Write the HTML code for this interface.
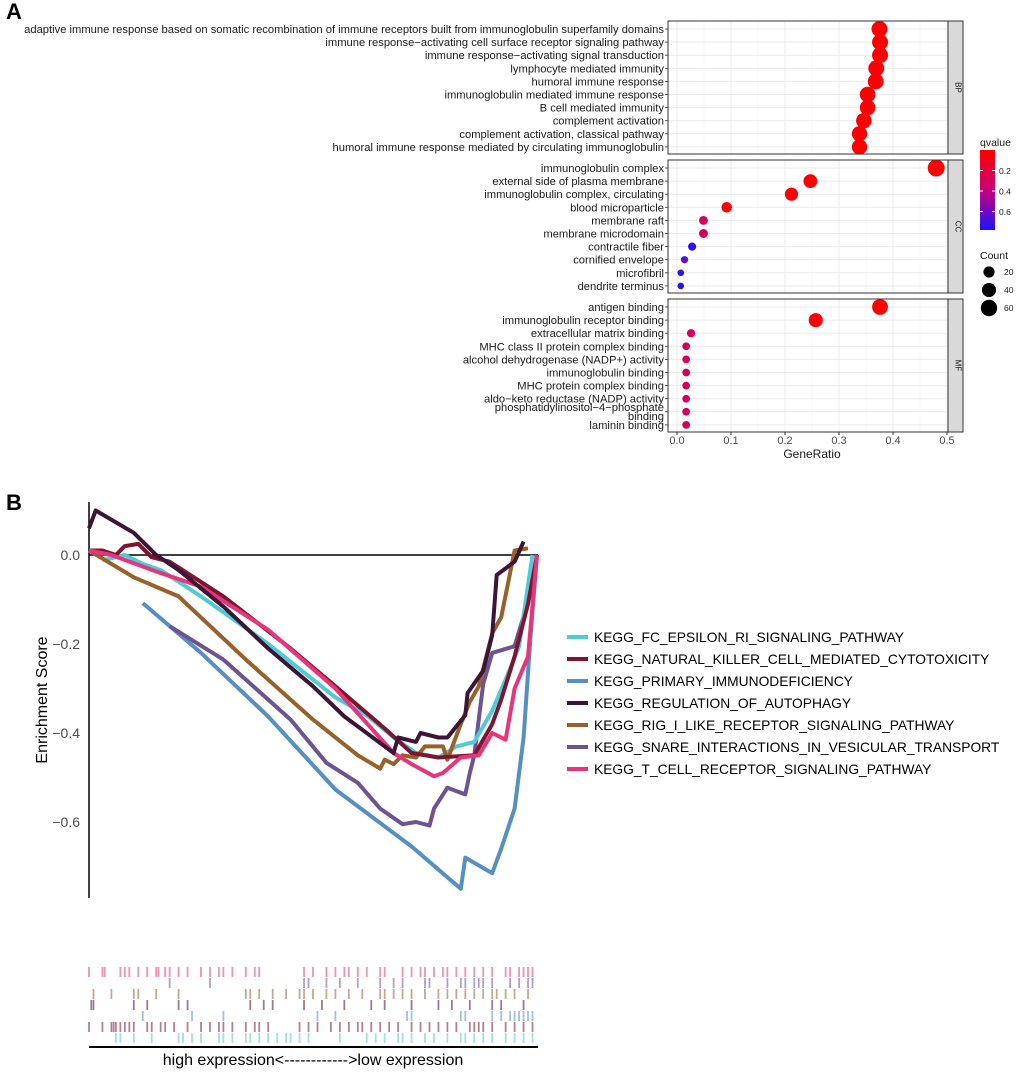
<!DOCTYPE html>
<html><head><meta charset="utf-8"><style>
body{margin:0;background:#fff}
svg{display:block;font-family:"Liberation Sans",Arial,sans-serif}
</style></head><body>
<svg id="fig" width="1020" height="1074" viewBox="0 0 1020 1074"></svg>
<script>
const bpTerms=["adaptive immune response based on somatic recombination of immune receptors built from immunoglobulin superfamily domains","immune response\u2212activating cell surface receptor signaling pathway","immune response\u2212activating signal transduction","lymphocyte mediated immunity","humoral immune response","immunoglobulin mediated immune response","B cell mediated immunity","complement activation","complement activation, classical pathway","humoral immune response mediated by circulating immunoglobulin"];
const bpRatio=[0.375,0.376,0.376,0.369,0.368,0.353,0.353,0.346,0.338,0.338];
const bpCount=[47,47,47,46,46,44,44,43,42,42];
const bpQ=[0.01,0.01,0.01,0.01,0.01,0.01,0.01,0.01,0.01,0.01];
const ccTerms=["immunoglobulin complex","external side of plasma membrane","immunoglobulin complex, circulating","blood microparticle","membrane raft","membrane microdomain","contractile fiber","cornified envelope","microfibril","dendrite terminus"];
const ccRatio=[0.48,0.247,0.212,0.092,0.049,0.049,0.028,0.014,0.007,0.007];
const ccCount=[56,30,26,12,6,6,4,2,1,1];
const ccQ=[0.01,0.01,0.01,0.01,0.3,0.3,0.75,0.65,0.75,0.75];
const mfTerms=["antigen binding","immunoglobulin receptor binding","extracellular matrix binding","MHC class II protein complex binding","alcohol dehydrogenase (NADP+) activity","immunoglobulin binding","MHC protein complex binding","aldo\u2212keto reductase (NADP) activity","phosphatidylinositol\u22124\u2212phosphate|binding","laminin binding"];
const mfRatio=[0.376,0.257,0.026,0.017,0.017,0.017,0.017,0.017,0.017,0.017];
const mfCount=[46,32,4,3,3,3,3,3,3,3];
const mfQ=[0.01,0.01,0.3,0.3,0.3,0.3,0.3,0.3,0.3,0.3];
const xTicks=[0,0.1,0.2,0.3,0.4,0.5];
const qTicks=[0.2,0.4,0.6];
const countTicks=[20,40,60];

const esTicks=[0,-0.2,-0.4,-0.6];
const seriesNames=["KEGG_FC_EPSILON_RI_SIGNALING_PATHWAY","KEGG_NATURAL_KILLER_CELL_MEDIATED_CYTOTOXICITY","KEGG_PRIMARY_IMMUNODEFICIENCY","KEGG_REGULATION_OF_AUTOPHAGY","KEGG_RIG_I_LIKE_RECEPTOR_SIGNALING_PATHWAY","KEGG_SNARE_INTERACTIONS_IN_VESICULAR_TRANSPORT","KEGG_T_CELL_RECEPTOR_SIGNALING_PATHWAY"];
const seriesColors=["#4fcbd6","#7d1530","#5690c2","#3d1535","#99612a","#6e5392","#e8347a"];
const fcX=[0.03,0.08,0.12,0.16,0.25,0.4,0.55,0.62,0.68,0.73,0.78,0.82,0.86,0.9,0.93,0.96,0.99];
const fcY=[-0.012,0,-0.02,-0.034,-0.093,-0.2,-0.32,-0.36,-0.41,-0.445,-0.455,-0.43,-0.42,-0.35,-0.28,-0.205,0];
const nkX=[0,0.03,0.06,0.08,0.11,0.14,0.18,0.3,0.45,0.55,0.66,0.72,0.78,0.86,0.9,0.92,0.95,0.98,1.0];
const nkY=[0.01,0.01,0,0.02,0.025,-0.005,-0.015,-0.093,-0.21,-0.295,-0.39,-0.445,-0.455,-0.45,-0.38,-0.325,-0.228,-0.11,0];
const piX=[0.12,0.25,0.4,0.55,0.72,0.83,0.84,0.9,0.92,0.95,0.97,0.985,1.0];
const piY=[-0.108,-0.22,-0.363,-0.527,-0.655,-0.75,-0.68,-0.715,-0.66,-0.57,-0.41,-0.19,0];
const auX=[0,0.015,0.1,0.15,0.2,0.3,0.4,0.5,0.57,0.68,0.69,0.73,0.74,0.78,0.8,0.84,0.845,0.88,0.9,0.91,0.95,0.97];
const auY=[0.06,0.1,0.05,0,-0.034,-0.116,-0.21,-0.295,-0.363,-0.445,-0.41,-0.42,-0.4,-0.41,-0.41,-0.36,-0.31,-0.26,-0.18,-0.045,-0.015,0.03];
const rgX=[0,0.1,0.2,0.35,0.5,0.6,0.65,0.66,0.68,0.7,0.73,0.75,0.79,0.8,0.83,0.85,0.87,0.9,0.92,0.95,0.98];
const rgY=[0.01,-0.05,-0.093,-0.235,-0.37,-0.45,-0.48,-0.46,-0.47,-0.45,-0.455,-0.43,-0.43,-0.46,-0.38,-0.33,-0.295,-0.176,-0.14,0.01,0.015];
const snX=[0.18,0.3,0.45,0.53,0.6,0.65,0.7,0.73,0.76,0.77,0.8,0.84,0.85,0.86,0.88,0.9,0.95,0.97,0.99];
const snY=[-0.16,-0.235,-0.37,-0.467,-0.512,-0.57,-0.605,-0.6,-0.608,-0.57,-0.523,-0.538,-0.49,-0.45,-0.29,-0.22,-0.205,-0.138,-0.07];
const tcX=[0,0.05,0.15,0.25,0.4,0.55,0.68,0.72,0.77,0.79,0.83,0.87,0.9,0.93,0.95,0.98,1.0];
const tcY=[0.01,0,-0.037,-0.071,-0.168,-0.3,-0.445,-0.47,-0.497,-0.49,-0.455,-0.45,-0.4,-0.415,-0.3,-0.228,0];
const hitsT=[0.0,0.03,0.035,0.07,0.08,0.09,0.11,0.13,0.15,0.155,0.17,0.18,0.2,0.22,0.25,0.27,0.29,0.3,0.32,0.35,0.37,0.38,0.48,0.5,0.53,0.55,0.57,0.58,0.6,0.62,0.65,0.66,0.7,0.72,0.74,0.75,0.77,0.79,0.8,0.82,0.84,0.86,0.88,0.9,0.93,0.94,0.96,0.97,0.98,0.99];
const hitsS=[0.18,0.27,0.48,0.49,0.53,0.56,0.6,0.65,0.68,0.7,0.75,0.76,0.8,0.83,0.84,0.86,0.87,0.88,0.9,0.94,0.96,0.98,0.99];
const hitsR=[0.01,0.05,0.1,0.11,0.15,0.2,0.35,0.36,0.38,0.41,0.44,0.47,0.48,0.5,0.53,0.55,0.58,0.61,0.65,0.66,0.68,0.7,0.72,0.75,0.78,0.8,0.82,0.84,0.86,0.88,0.9,0.91,0.93,0.95,0.98];
const hitsA=[0.005,0.01,0.1,0.13,0.2,0.22,0.36,0.39,0.41,0.48,0.52,0.57,0.63,0.66,0.72,0.78,0.81,0.85,0.9,0.92,0.97];
const hitsP=[0.12,0.23,0.3,0.51,0.55,0.71,0.72,0.83,0.84,0.9,0.92,0.94,0.95,0.96,0.97,0.98,0.99];
const hitsN=[0.0,0.03,0.05,0.055,0.06,0.07,0.08,0.09,0.1,0.13,0.14,0.16,0.17,0.19,0.22,0.25,0.27,0.29,0.3,0.32,0.35,0.37,0.38,0.4,0.47,0.49,0.51,0.54,0.56,0.58,0.6,0.61,0.63,0.65,0.67,0.69,0.72,0.74,0.76,0.78,0.8,0.82,0.85,0.86,0.87,0.88,0.9,0.93,0.95,0.97,0.99];
const hitsF=[0.06,0.07,0.1,0.14,0.2,0.21,0.23,0.25,0.29,0.3,0.32,0.35,0.36,0.38,0.4,0.42,0.44,0.45,0.47,0.49,0.56,0.62,0.64,0.66,0.69,0.7,0.72,0.75,0.77,0.8,0.83,0.84,0.86,0.88,0.9,0.93,0.95,0.97,0.99];

const svg=document.getElementById('fig');
const NS='http://www.w3.org/2000/svg';
function mk(tag,attrs,parent){const e=document.createElementNS(NS,tag);for(const k in attrs)e.setAttribute(k,attrs[k]);(parent||svg).appendChild(e);return e;}
function txt(s,attrs,parent){const e=mk('text',attrs,parent);e.textContent=s;return e;}

// ---- Panel A ----
const gA=mk('g',{});


const tA=txt('A',{x:6,y:19,'font-size':22,'font-weight':'bold'},gA);


const px0=677,px1=947;
const xs=v=>px0+(v-0)*(px1-px0)/0.5;
const rr=c=>2.5+0.8*Math.sqrt(c);
function qcol(q){const t=Math.max(0,Math.min(1,q/0.78));let a,b,u;
 if(t<0.5){a=[255,0,0];b=[200,0,120];u=t/0.5;}else{a=[200,0,120];b=[30,20,255];u=(t-0.5)/0.5;}
 return 'rgb('+a.map((v,i)=>Math.round(v+(b[i]-v)*u)).join(',')+')';}
const facets=[{n:'BP',top:21,bot:154,first:29,terms:bpTerms,r:bpRatio,c:bpCount,q:bpQ},
{n:'CC',top:160,bot:293,first:168,terms:ccTerms,r:ccRatio,c:ccCount,q:ccQ},
{n:'MF',top:299,bot:432,first:307,terms:mfTerms,r:mfRatio,c:mfCount,q:mfQ}];
const step=13.1;
facets.forEach(f=>{
 const g=mk('g',{},gA);
 
 
 mk('rect',{x:668,y:f.top,width:280,height:f.bot-f.top,fill:'#fff'},g);
 [0.05,0.15,0.25,0.35,0.45].forEach(v=>mk('line',{x1:xs(v),x2:xs(v),y1:f.top,y2:f.bot,stroke:'#f2f2f2','stroke-width':0.6},g));
 xTicks.forEach(v=>mk('line',{x1:xs(v),x2:xs(v),y1:f.top,y2:f.bot,stroke:'#ebebeb','stroke-width':1},g));
 f.terms.forEach((t,i)=>{const y=f.first+i*step;
  mk('line',{x1:668,x2:948,y1:y,y2:y,stroke:'#ebebeb','stroke-width':1},g);
  mk('line',{x1:665,x2:668,y1:y,y2:y,stroke:'#333','stroke-width':0.8},g);
  const parts=t.split('|');
  const lab=txt(parts[0],{x:664,y:parts.length>1?y-1:y+4,'font-size':11.2,'text-anchor':'end',fill:'#1a1a1a'},g);
  
  
  if(parts.length>1){const l2=txt(parts[1],{x:664,y:y+8,'font-size':11.2,'text-anchor':'end',fill:'#1a1a1a'},g);
   
   }
 });
 f.terms.forEach((t,i)=>{const y=f.first+i*step;
  const d=mk('circle',{cx:xs(f.r[i]),cy:y,r:rr(f.c[i]),fill:qcol(f.q[i])},g);
  
  
 });
 mk('rect',{x:668,y:f.top,width:280,height:f.bot-f.top,fill:'none',stroke:'#333','stroke-width':1},g);
 const s=mk('rect',{x:948,y:f.top,width:15,height:f.bot-f.top,fill:'#d9d9d9',stroke:'#333','stroke-width':1},g);
 
 
 const cy=(f.top+f.bot)/2;
 const st=txt(f.n,{x:955.5,y:cy,'font-size':8,'text-anchor':'middle',fill:'#1a1a1a',transform:'rotate(90 955.5 '+cy+')'},g);
 
 
});
xTicks.forEach(v=>{mk('line',{x1:xs(v),x2:xs(v),y1:432,y2:435,stroke:'#333'},gA);
 const t=txt(v.toFixed(1),{x:xs(v),y:444,'font-size':11,'text-anchor':'middle',fill:'#4d4d4d'},gA);
 
 });
const gr=txt('GeneRatio',{x:812,y:458,'font-size':12,'text-anchor':'middle',fill:'#1a1a1a'},gA);


const lg=mk('g',{},gA);


txt('qvalue',{x:980,y:146,'font-size':10.5,fill:'#1a1a1a'},lg);
const defs=mk('defs',{},svg);
const grad=mk('linearGradient',{id:'qg',x1:0,y1:0,x2:0,y2:1},defs);
[0,0.25,0.5,0.75,1].forEach(o=>mk('stop',{offset:o,'stop-color':qcol(o*0.78)},grad));
mk('rect',{x:980,y:150,width:15,height:80,fill:'url(#qg)'},lg);
const qy=v=>150+v*80/0.78;
qTicks.forEach(v=>{mk('line',{x1:980,x2:983,y1:qy(v),y2:qy(v),stroke:'#fff'},lg);mk('line',{x1:992,x2:995,y1:qy(v),y2:qy(v),stroke:'#fff'},lg);
 txt(v.toFixed(1),{x:999,y:qy(v)+3.5,'font-size':8.5,fill:'#1a1a1a'},lg);});
const cl=mk('g',{},gA);


txt('Count',{x:980,y:259,'font-size':10.5,fill:'#1a1a1a'},cl);
countTicks.forEach((c,i)=>{const y=272+i*18;mk('circle',{cx:989,cy:y,r:rr(c)-0.5,fill:'#000'},cl);
 txt(String(c),{x:1004,y:y+3,'font-size':8.5,fill:'#1a1a1a'},cl);});

// ---- Panel B ----
const gB=mk('g',{});


const tB=txt('B',{x:6,y:510,'font-size':22,'font-weight':'bold'},gB);


const bx0=89,bx1=537;
const bxs=t=>bx0+t*(bx1-bx0);
const bys=v=>555-v*(89/0.2);
mk('line',{x1:89,x2:89,y1:502,y2:898,stroke:'#000','stroke-width':1.5},gB);
mk('line',{x1:89,x2:538,y1:bys(0),y2:bys(0),stroke:'#000','stroke-width':1.5},gB);
esTicks.forEach(v=>{const t=txt(v.toFixed(1).replace('-','\u2212'),{x:80,y:bys(v)+5,'font-size':14,'text-anchor':'end',fill:'#4d4d4d'},gB);
 
 });
const yt=txt('Enrichment Score',{x:47,y:700,'font-size':16,'text-anchor':'middle',fill:'#000',transform:'rotate(-90 47 700)'},gB);


const seriesX=[fcX,nkX,piX,auX,rgX,snX,tcX];
const seriesY=[fcY,nkY,piY,auY,rgY,snY,tcY];
const drawOrder=[2,5,0,4,1,6,3];
drawOrder.forEach(k=>{const d=seriesX[k].map((t,i)=>(i?'L':'M')+bxs(t).toFixed(1)+' '+bys(seriesY[k][i]).toFixed(1)).join(' ');
 const p=mk('path',{d:d,fill:'none',stroke:seriesColors[k],'stroke-width':4,'stroke-linejoin':'round'},gB);
 
 });
seriesNames.forEach((n,i)=>{const y=637+i*22;
 const g=mk('g',{},gB);
 
 
 mk('line',{x1:567,x2:588,y1:y,y2:y,stroke:seriesColors[i],'stroke-width':4},g);
 txt(n,{x:594,y:y+5,'font-size':13.8,fill:'#000'},g);});
const hits=[hitsT,hitsS,hitsR,hitsA,hitsP,hitsN,hitsF];
const hitCols=[6,5,4,3,2,1,0];
const bc=mk('g',{},gB);


hits.forEach((arr,r)=>{const y=967+r*11;
 arr.forEach(t=>{mk('rect',{x:bxs(t)-0.9,y:y,width:1.8,height:10,fill:seriesColors[hitCols[r]],opacity:0.55},bc);});});
mk('line',{x1:89,x2:538,y1:1047,y2:1047,stroke:'#000','stroke-width':2},gB);
const xl=txt('high expression<------------>low expression',{x:313,y:1065,'font-size':16,'text-anchor':'middle',fill:'#000'},gB);


</script>
</body></html>
